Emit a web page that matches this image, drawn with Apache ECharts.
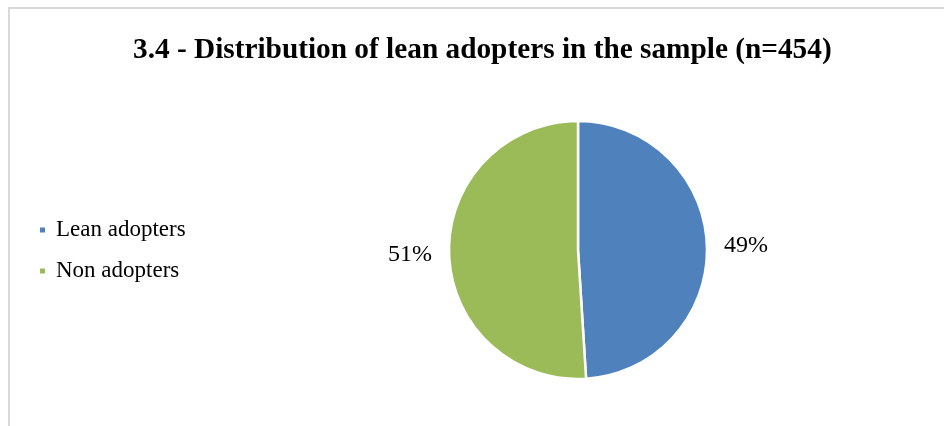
<!DOCTYPE html>
<html>
<head>
<meta charset="utf-8">
<title>Distribution of lean adopters</title>
<script src="https://cdn.jsdelivr.net/npm/echarts@6/dist/echarts.min.js"></script>
<style>
  html, body { margin: 0; padding: 0; background: #fff; }
  #chart { width: 944px; height: 426px; }
</style>
</head>
<body>
<div id="chart"></div>
<script>
// Share of firms in the sample (n=454), in percent
const categories = ['Lean adopters', 'Non adopters'];
const shares = [49, 51];
const sliceColors = ['#4f81bd', '#9bbb59'];
const titleText = '3.4 - Distribution of lean adopters in the sample (n=454)';

const serif = '"Liberation Serif", "Times New Roman", serif';

const chart = echarts.init(document.getElementById('chart'), null, { renderer: 'canvas' });

chart.setOption({
  animation: false,
  backgroundColor: '#ffffff',
  color: sliceColors,
  graphic: [{
    // chart-area frame (top and left edges visible)
    type: 'rect',
    silent: true,
    shape: { x: 9, y: 8, width: 1200, height: 1200 },
    style: { fill: 'none', stroke: '#d9d9d9', lineWidth: 2 }
  }],
  title: {
    text: titleText,
    left: 133,
    top: 36,
    padding: 0,
    textStyle: {
      fontFamily: serif,
      fontWeight: 'bold',
      fontSize: 29.3,
      color: '#000000'
    }
  },
  legend: {
    orient: 'vertical',
    left: 38,
    top: 218,
    padding: 0,
    icon: 'rect',
    itemWidth: 7,
    itemHeight: 7,
    itemGap: 17,
    data: categories,
    textStyle: {
      fontFamily: serif,
      fontSize: 23,
      lineHeight: 24,
      color: '#000000',
      padding: [0, 0, 0, 5]
    }
  },
  series: [{
    type: 'pie',
    center: [578, 250],
    radius: [0, 129],
    startAngle: 90,
    clockwise: true,
    data: categories.map((name, i) => ({ name, value: shares[i] })),
    itemStyle: { borderColor: '#ffffff', borderWidth: 2.5 },
    label: {
      show: true,
      position: 'outside',
      formatter: (p) => p.value + '%',
      fontFamily: serif,
      fontSize: 24,
      color: '#000000',
      distanceToLabelLine: 5
    },
    labelLine: { show: false, length: 7, length2: 5 },
    emphasis: { disabled: true }
  }]
});
</script>
</body>
</html>
